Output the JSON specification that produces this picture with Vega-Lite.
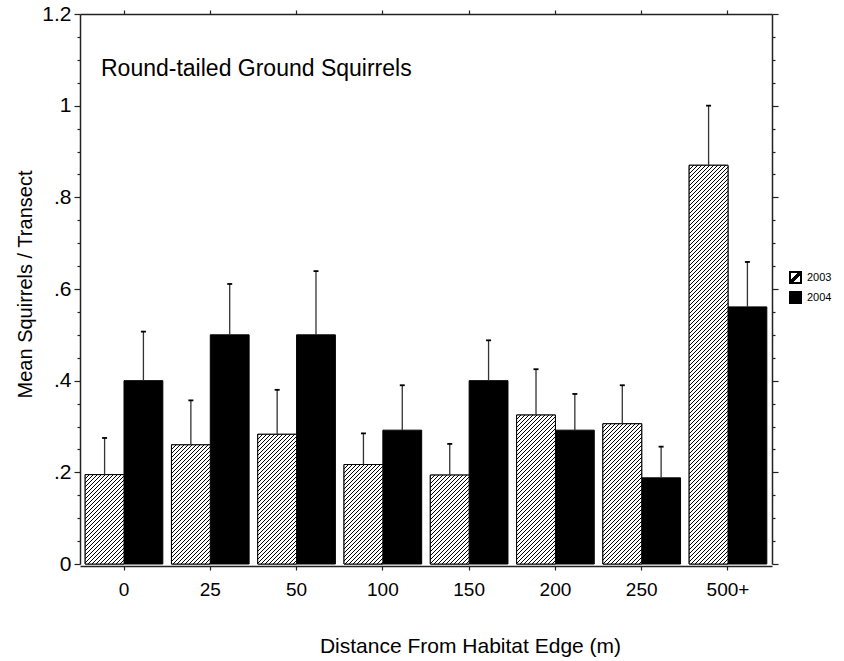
{
  "$schema": "https://vega.github.io/schema/vega-lite/v6.json",
  "width": 692,
  "height": 550,
  "autosize": "none",
  "padding": {"left": 80, "top": 14, "right": 72, "bottom": 97},
  "config": {
    "font": "Liberation Sans",
    "view": {"stroke": null},
    "axis": {"grid": false, "domainColor": "#222", "domainWidth": 1.5, "tickColor": "#222", "tickWidth": 1.2, "labelColor": "#000", "titleColor": "#000", "labelFont": "Liberation Sans", "titleFont": "Liberation Sans", "titleFontWeight": "normal"},
    "legend": {"labelColor": "#000", "labelFont": "Liberation Sans"}
  },
  "params": [
    {"name": "hatch", "value": [
{"offset":0,"color":"#000"},{"offset":0.002,"color":"#000"},{"offset":0.002,"color":"#fff"},{"offset":0.008,"color":"#fff"},
{"offset":0.008,"color":"#000"},{"offset":0.01,"color":"#000"},{"offset":0.01,"color":"#fff"},{"offset":0.016,"color":"#fff"},
{"offset":0.016,"color":"#000"},{"offset":0.018,"color":"#000"},{"offset":0.018,"color":"#fff"},{"offset":0.024,"color":"#fff"},
{"offset":0.024,"color":"#000"},{"offset":0.026,"color":"#000"},{"offset":0.026,"color":"#fff"},{"offset":0.032,"color":"#fff"},
{"offset":0.032,"color":"#000"},{"offset":0.034,"color":"#000"},{"offset":0.034,"color":"#fff"},{"offset":0.04,"color":"#fff"},
{"offset":0.04,"color":"#000"},{"offset":0.042,"color":"#000"},{"offset":0.042,"color":"#fff"},{"offset":0.048,"color":"#fff"},
{"offset":0.048,"color":"#000"},{"offset":0.05,"color":"#000"},{"offset":0.05,"color":"#fff"},{"offset":0.056,"color":"#fff"},
{"offset":0.056,"color":"#000"},{"offset":0.058,"color":"#000"},{"offset":0.058,"color":"#fff"},{"offset":0.064,"color":"#fff"},
{"offset":0.064,"color":"#000"},{"offset":0.066,"color":"#000"},{"offset":0.066,"color":"#fff"},{"offset":0.072,"color":"#fff"},
{"offset":0.072,"color":"#000"},{"offset":0.074,"color":"#000"},{"offset":0.074,"color":"#fff"},{"offset":0.08,"color":"#fff"},
{"offset":0.08,"color":"#000"},{"offset":0.082,"color":"#000"},{"offset":0.082,"color":"#fff"},{"offset":0.088,"color":"#fff"},
{"offset":0.088,"color":"#000"},{"offset":0.09,"color":"#000"},{"offset":0.09,"color":"#fff"},{"offset":0.096,"color":"#fff"},
{"offset":0.096,"color":"#000"},{"offset":0.098,"color":"#000"},{"offset":0.098,"color":"#fff"},{"offset":0.104,"color":"#fff"},
{"offset":0.104,"color":"#000"},{"offset":0.106,"color":"#000"},{"offset":0.106,"color":"#fff"},{"offset":0.112,"color":"#fff"},
{"offset":0.112,"color":"#000"},{"offset":0.114,"color":"#000"},{"offset":0.114,"color":"#fff"},{"offset":0.12,"color":"#fff"},
{"offset":0.12,"color":"#000"},{"offset":0.122,"color":"#000"},{"offset":0.122,"color":"#fff"},{"offset":0.128,"color":"#fff"},
{"offset":0.128,"color":"#000"},{"offset":0.13,"color":"#000"},{"offset":0.13,"color":"#fff"},{"offset":0.136,"color":"#fff"},
{"offset":0.136,"color":"#000"},{"offset":0.138,"color":"#000"},{"offset":0.138,"color":"#fff"},{"offset":0.144,"color":"#fff"},
{"offset":0.144,"color":"#000"},{"offset":0.146,"color":"#000"},{"offset":0.146,"color":"#fff"},{"offset":0.152,"color":"#fff"},
{"offset":0.152,"color":"#000"},{"offset":0.154,"color":"#000"},{"offset":0.154,"color":"#fff"},{"offset":0.16,"color":"#fff"},
{"offset":0.16,"color":"#000"},{"offset":0.162,"color":"#000"},{"offset":0.162,"color":"#fff"},{"offset":0.168,"color":"#fff"},
{"offset":0.168,"color":"#000"},{"offset":0.17,"color":"#000"},{"offset":0.17,"color":"#fff"},{"offset":0.176,"color":"#fff"},
{"offset":0.176,"color":"#000"},{"offset":0.178,"color":"#000"},{"offset":0.178,"color":"#fff"},{"offset":0.184,"color":"#fff"},
{"offset":0.184,"color":"#000"},{"offset":0.186,"color":"#000"},{"offset":0.186,"color":"#fff"},{"offset":0.192,"color":"#fff"},
{"offset":0.192,"color":"#000"},{"offset":0.194,"color":"#000"},{"offset":0.194,"color":"#fff"},{"offset":0.2,"color":"#fff"},
{"offset":0.2,"color":"#000"},{"offset":0.202,"color":"#000"},{"offset":0.202,"color":"#fff"},{"offset":0.208,"color":"#fff"},
{"offset":0.208,"color":"#000"},{"offset":0.21,"color":"#000"},{"offset":0.21,"color":"#fff"},{"offset":0.216,"color":"#fff"},
{"offset":0.216,"color":"#000"},{"offset":0.218,"color":"#000"},{"offset":0.218,"color":"#fff"},{"offset":0.224,"color":"#fff"},
{"offset":0.224,"color":"#000"},{"offset":0.226,"color":"#000"},{"offset":0.226,"color":"#fff"},{"offset":0.232,"color":"#fff"},
{"offset":0.232,"color":"#000"},{"offset":0.234,"color":"#000"},{"offset":0.234,"color":"#fff"},{"offset":0.24,"color":"#fff"},
{"offset":0.24,"color":"#000"},{"offset":0.242,"color":"#000"},{"offset":0.242,"color":"#fff"},{"offset":0.248,"color":"#fff"},
{"offset":0.248,"color":"#000"},{"offset":0.25,"color":"#000"},{"offset":0.25,"color":"#fff"},{"offset":0.256,"color":"#fff"},
{"offset":0.256,"color":"#000"},{"offset":0.258,"color":"#000"},{"offset":0.258,"color":"#fff"},{"offset":0.264,"color":"#fff"},
{"offset":0.264,"color":"#000"},{"offset":0.266,"color":"#000"},{"offset":0.266,"color":"#fff"},{"offset":0.272,"color":"#fff"},
{"offset":0.272,"color":"#000"},{"offset":0.274,"color":"#000"},{"offset":0.274,"color":"#fff"},{"offset":0.28,"color":"#fff"},
{"offset":0.28,"color":"#000"},{"offset":0.282,"color":"#000"},{"offset":0.282,"color":"#fff"},{"offset":0.288,"color":"#fff"},
{"offset":0.288,"color":"#000"},{"offset":0.29,"color":"#000"},{"offset":0.29,"color":"#fff"},{"offset":0.296,"color":"#fff"},
{"offset":0.296,"color":"#000"},{"offset":0.298,"color":"#000"},{"offset":0.298,"color":"#fff"},{"offset":0.304,"color":"#fff"},
{"offset":0.304,"color":"#000"},{"offset":0.306,"color":"#000"},{"offset":0.306,"color":"#fff"},{"offset":0.312,"color":"#fff"},
{"offset":0.312,"color":"#000"},{"offset":0.314,"color":"#000"},{"offset":0.314,"color":"#fff"},{"offset":0.32,"color":"#fff"},
{"offset":0.32,"color":"#000"},{"offset":0.322,"color":"#000"},{"offset":0.322,"color":"#fff"},{"offset":0.328,"color":"#fff"},
{"offset":0.328,"color":"#000"},{"offset":0.33,"color":"#000"},{"offset":0.33,"color":"#fff"},{"offset":0.336,"color":"#fff"},
{"offset":0.336,"color":"#000"},{"offset":0.338,"color":"#000"},{"offset":0.338,"color":"#fff"},{"offset":0.344,"color":"#fff"},
{"offset":0.344,"color":"#000"},{"offset":0.346,"color":"#000"},{"offset":0.346,"color":"#fff"},{"offset":0.352,"color":"#fff"},
{"offset":0.352,"color":"#000"},{"offset":0.354,"color":"#000"},{"offset":0.354,"color":"#fff"},{"offset":0.36,"color":"#fff"},
{"offset":0.36,"color":"#000"},{"offset":0.362,"color":"#000"},{"offset":0.362,"color":"#fff"},{"offset":0.368,"color":"#fff"},
{"offset":0.368,"color":"#000"},{"offset":0.37,"color":"#000"},{"offset":0.37,"color":"#fff"},{"offset":0.376,"color":"#fff"},
{"offset":0.376,"color":"#000"},{"offset":0.378,"color":"#000"},{"offset":0.378,"color":"#fff"},{"offset":0.384,"color":"#fff"},
{"offset":0.384,"color":"#000"},{"offset":0.386,"color":"#000"},{"offset":0.386,"color":"#fff"},{"offset":0.392,"color":"#fff"},
{"offset":0.392,"color":"#000"},{"offset":0.394,"color":"#000"},{"offset":0.394,"color":"#fff"},{"offset":0.4,"color":"#fff"},
{"offset":0.4,"color":"#000"},{"offset":0.402,"color":"#000"},{"offset":0.402,"color":"#fff"},{"offset":0.408,"color":"#fff"},
{"offset":0.408,"color":"#000"},{"offset":0.41,"color":"#000"},{"offset":0.41,"color":"#fff"},{"offset":0.416,"color":"#fff"},
{"offset":0.416,"color":"#000"},{"offset":0.418,"color":"#000"},{"offset":0.418,"color":"#fff"},{"offset":0.424,"color":"#fff"},
{"offset":0.424,"color":"#000"},{"offset":0.426,"color":"#000"},{"offset":0.426,"color":"#fff"},{"offset":0.432,"color":"#fff"},
{"offset":0.432,"color":"#000"},{"offset":0.434,"color":"#000"},{"offset":0.434,"color":"#fff"},{"offset":0.44,"color":"#fff"},
{"offset":0.44,"color":"#000"},{"offset":0.442,"color":"#000"},{"offset":0.442,"color":"#fff"},{"offset":0.448,"color":"#fff"},
{"offset":0.448,"color":"#000"},{"offset":0.45,"color":"#000"},{"offset":0.45,"color":"#fff"},{"offset":0.456,"color":"#fff"},
{"offset":0.456,"color":"#000"},{"offset":0.458,"color":"#000"},{"offset":0.458,"color":"#fff"},{"offset":0.464,"color":"#fff"},
{"offset":0.464,"color":"#000"},{"offset":0.466,"color":"#000"},{"offset":0.466,"color":"#fff"},{"offset":0.472,"color":"#fff"},
{"offset":0.472,"color":"#000"},{"offset":0.474,"color":"#000"},{"offset":0.474,"color":"#fff"},{"offset":0.48,"color":"#fff"},
{"offset":0.48,"color":"#000"},{"offset":0.482,"color":"#000"},{"offset":0.482,"color":"#fff"},{"offset":0.488,"color":"#fff"},
{"offset":0.488,"color":"#000"},{"offset":0.49,"color":"#000"},{"offset":0.49,"color":"#fff"},{"offset":0.496,"color":"#fff"},
{"offset":0.496,"color":"#000"},{"offset":0.498,"color":"#000"},{"offset":0.498,"color":"#fff"},{"offset":0.504,"color":"#fff"},
{"offset":0.504,"color":"#000"},{"offset":0.506,"color":"#000"},{"offset":0.506,"color":"#fff"},{"offset":0.512,"color":"#fff"},
{"offset":0.512,"color":"#000"},{"offset":0.514,"color":"#000"},{"offset":0.514,"color":"#fff"},{"offset":0.52,"color":"#fff"},
{"offset":0.52,"color":"#000"},{"offset":0.522,"color":"#000"},{"offset":0.522,"color":"#fff"},{"offset":0.528,"color":"#fff"},
{"offset":0.528,"color":"#000"},{"offset":0.53,"color":"#000"},{"offset":0.53,"color":"#fff"},{"offset":0.536,"color":"#fff"},
{"offset":0.536,"color":"#000"},{"offset":0.538,"color":"#000"},{"offset":0.538,"color":"#fff"},{"offset":0.544,"color":"#fff"},
{"offset":0.544,"color":"#000"},{"offset":0.546,"color":"#000"},{"offset":0.546,"color":"#fff"},{"offset":0.552,"color":"#fff"},
{"offset":0.552,"color":"#000"},{"offset":0.554,"color":"#000"},{"offset":0.554,"color":"#fff"},{"offset":0.56,"color":"#fff"},
{"offset":0.56,"color":"#000"},{"offset":0.562,"color":"#000"},{"offset":0.562,"color":"#fff"},{"offset":0.568,"color":"#fff"},
{"offset":0.568,"color":"#000"},{"offset":0.57,"color":"#000"},{"offset":0.57,"color":"#fff"},{"offset":0.576,"color":"#fff"},
{"offset":0.576,"color":"#000"},{"offset":0.578,"color":"#000"},{"offset":0.578,"color":"#fff"},{"offset":0.584,"color":"#fff"},
{"offset":0.584,"color":"#000"},{"offset":0.586,"color":"#000"},{"offset":0.586,"color":"#fff"},{"offset":0.592,"color":"#fff"},
{"offset":0.592,"color":"#000"},{"offset":0.594,"color":"#000"},{"offset":0.594,"color":"#fff"},{"offset":0.6,"color":"#fff"},
{"offset":0.6,"color":"#000"},{"offset":0.602,"color":"#000"},{"offset":0.602,"color":"#fff"},{"offset":0.608,"color":"#fff"},
{"offset":0.608,"color":"#000"},{"offset":0.61,"color":"#000"},{"offset":0.61,"color":"#fff"},{"offset":0.616,"color":"#fff"},
{"offset":0.616,"color":"#000"},{"offset":0.618,"color":"#000"},{"offset":0.618,"color":"#fff"},{"offset":0.624,"color":"#fff"},
{"offset":0.624,"color":"#000"},{"offset":0.626,"color":"#000"},{"offset":0.626,"color":"#fff"},{"offset":0.632,"color":"#fff"},
{"offset":0.632,"color":"#000"},{"offset":0.634,"color":"#000"},{"offset":0.634,"color":"#fff"},{"offset":0.64,"color":"#fff"},
{"offset":0.64,"color":"#000"},{"offset":0.642,"color":"#000"},{"offset":0.642,"color":"#fff"},{"offset":0.648,"color":"#fff"},
{"offset":0.648,"color":"#000"},{"offset":0.65,"color":"#000"},{"offset":0.65,"color":"#fff"},{"offset":0.656,"color":"#fff"},
{"offset":0.656,"color":"#000"},{"offset":0.658,"color":"#000"},{"offset":0.658,"color":"#fff"},{"offset":0.664,"color":"#fff"},
{"offset":0.664,"color":"#000"},{"offset":0.666,"color":"#000"},{"offset":0.666,"color":"#fff"},{"offset":0.672,"color":"#fff"},
{"offset":0.672,"color":"#000"},{"offset":0.674,"color":"#000"},{"offset":0.674,"color":"#fff"},{"offset":0.68,"color":"#fff"},
{"offset":0.68,"color":"#000"},{"offset":0.682,"color":"#000"},{"offset":0.682,"color":"#fff"},{"offset":0.688,"color":"#fff"},
{"offset":0.688,"color":"#000"},{"offset":0.69,"color":"#000"},{"offset":0.69,"color":"#fff"},{"offset":0.696,"color":"#fff"},
{"offset":0.696,"color":"#000"},{"offset":0.698,"color":"#000"},{"offset":0.698,"color":"#fff"},{"offset":0.704,"color":"#fff"},
{"offset":0.704,"color":"#000"},{"offset":0.706,"color":"#000"},{"offset":0.706,"color":"#fff"},{"offset":0.712,"color":"#fff"},
{"offset":0.712,"color":"#000"},{"offset":0.714,"color":"#000"},{"offset":0.714,"color":"#fff"},{"offset":0.72,"color":"#fff"},
{"offset":0.72,"color":"#000"},{"offset":0.722,"color":"#000"},{"offset":0.722,"color":"#fff"},{"offset":0.728,"color":"#fff"},
{"offset":0.728,"color":"#000"},{"offset":0.73,"color":"#000"},{"offset":0.73,"color":"#fff"},{"offset":0.736,"color":"#fff"},
{"offset":0.736,"color":"#000"},{"offset":0.738,"color":"#000"},{"offset":0.738,"color":"#fff"},{"offset":0.744,"color":"#fff"},
{"offset":0.744,"color":"#000"},{"offset":0.746,"color":"#000"},{"offset":0.746,"color":"#fff"},{"offset":0.752,"color":"#fff"},
{"offset":0.752,"color":"#000"},{"offset":0.754,"color":"#000"},{"offset":0.754,"color":"#fff"},{"offset":0.76,"color":"#fff"},
{"offset":0.76,"color":"#000"},{"offset":0.762,"color":"#000"},{"offset":0.762,"color":"#fff"},{"offset":0.768,"color":"#fff"},
{"offset":0.768,"color":"#000"},{"offset":0.77,"color":"#000"},{"offset":0.77,"color":"#fff"},{"offset":0.776,"color":"#fff"},
{"offset":0.776,"color":"#000"},{"offset":0.778,"color":"#000"},{"offset":0.778,"color":"#fff"},{"offset":0.784,"color":"#fff"},
{"offset":0.784,"color":"#000"},{"offset":0.786,"color":"#000"},{"offset":0.786,"color":"#fff"},{"offset":0.792,"color":"#fff"},
{"offset":0.792,"color":"#000"},{"offset":0.794,"color":"#000"},{"offset":0.794,"color":"#fff"},{"offset":0.8,"color":"#fff"},
{"offset":0.8,"color":"#000"},{"offset":0.802,"color":"#000"},{"offset":0.802,"color":"#fff"},{"offset":0.808,"color":"#fff"},
{"offset":0.808,"color":"#000"},{"offset":0.81,"color":"#000"},{"offset":0.81,"color":"#fff"},{"offset":0.816,"color":"#fff"},
{"offset":0.816,"color":"#000"},{"offset":0.818,"color":"#000"},{"offset":0.818,"color":"#fff"},{"offset":0.824,"color":"#fff"},
{"offset":0.824,"color":"#000"},{"offset":0.826,"color":"#000"},{"offset":0.826,"color":"#fff"},{"offset":0.832,"color":"#fff"},
{"offset":0.832,"color":"#000"},{"offset":0.834,"color":"#000"},{"offset":0.834,"color":"#fff"},{"offset":0.84,"color":"#fff"},
{"offset":0.84,"color":"#000"},{"offset":0.842,"color":"#000"},{"offset":0.842,"color":"#fff"},{"offset":0.848,"color":"#fff"},
{"offset":0.848,"color":"#000"},{"offset":0.85,"color":"#000"},{"offset":0.85,"color":"#fff"},{"offset":0.856,"color":"#fff"},
{"offset":0.856,"color":"#000"},{"offset":0.858,"color":"#000"},{"offset":0.858,"color":"#fff"},{"offset":0.864,"color":"#fff"},
{"offset":0.864,"color":"#000"},{"offset":0.866,"color":"#000"},{"offset":0.866,"color":"#fff"},{"offset":0.872,"color":"#fff"},
{"offset":0.872,"color":"#000"},{"offset":0.874,"color":"#000"},{"offset":0.874,"color":"#fff"},{"offset":0.88,"color":"#fff"},
{"offset":0.88,"color":"#000"},{"offset":0.882,"color":"#000"},{"offset":0.882,"color":"#fff"},{"offset":1,"color":"#fff"}
    ]}
  ],
  "title": {"text": "Round-tailed Ground Squirrels", "anchor": "start", "frame": "group", "orient": "top", "offset": -96, "dx": 21, "fontSize": 23, "fontWeight": "normal", "font": "Liberation Sans", "color": "#000", "baseline": "alphabetic"},
  "data": {"values": [
    {"dist": "0", "year": "2003", "mean": 0.195, "upper": 0.275},
    {"dist": "0", "year": "2004", "mean": 0.4, "upper": 0.507},
    {"dist": "25", "year": "2003", "mean": 0.26, "upper": 0.357},
    {"dist": "25", "year": "2004", "mean": 0.5, "upper": 0.611},
    {"dist": "50", "year": "2003", "mean": 0.283, "upper": 0.38},
    {"dist": "50", "year": "2004", "mean": 0.5, "upper": 0.639},
    {"dist": "100", "year": "2003", "mean": 0.217, "upper": 0.285},
    {"dist": "100", "year": "2004", "mean": 0.292, "upper": 0.39},
    {"dist": "150", "year": "2003", "mean": 0.194, "upper": 0.262},
    {"dist": "150", "year": "2004", "mean": 0.4, "upper": 0.488},
    {"dist": "200", "year": "2003", "mean": 0.325, "upper": 0.425},
    {"dist": "200", "year": "2004", "mean": 0.292, "upper": 0.371},
    {"dist": "250", "year": "2003", "mean": 0.306, "upper": 0.39},
    {"dist": "250", "year": "2004", "mean": 0.188, "upper": 0.256},
    {"dist": "500+", "year": "2003", "mean": 0.87, "upper": 1.0},
    {"dist": "500+", "year": "2004", "mean": 0.561, "upper": 0.659}
  ]},
  "layer": [
    {
      "mark": {"type": "bar", "stroke": "#000", "strokeWidth": 1},
      "encoding": {
        "x": {"field": "dist", "type": "nominal", "sort": ["0", "25", "50", "100", "150", "200", "250", "500+"], "scale": {"paddingInner": 0.1, "paddingOuter": 0.06},
          "axis": {"orient": "bottom", "offset": 2, "tickSize": 4, "labelAngle": 0, "labelFontSize": 19, "labelPadding": 10, "title": "Distance From Habitat Edge (m)", "titleFontSize": 21, "titleX": 390, "titleY": 86, "titleBaseline": "alphabetic"}},
        "xOffset": {"field": "year", "type": "nominal", "scale": {"domain": ["2003", "2004"], "paddingInner": 0, "paddingOuter": 0}},
        "y": {"field": "mean", "type": "quantitative", "scale": {"domain": [0, 1.2], "nice": false},
          "axis": {"orient": "left", "values": [0, 0.2, 0.4, 0.6, 0.8, 1, 1.2], "tickSize": 6, "labelFontSize": 21, "labelPadding": 3,
            "labelExpr": "datum.value === 0 ? '0' : datum.value < 1 ? replace(format(datum.value, '.1f'), '0.', '.') : format(datum.value, '.1~f')",
            "title": "Mean Squirrels / Transect", "titleFontSize": 20, "titleX": -49, "titleY": 270, "titleBaseline": "alphabetic"}},
        "fill": {"field": "year", "type": "nominal",
          "scale": {"domain": ["2003", "2004"], "range": [{"expr": "{gradient: 'linear', x1: 0, y1: 0, x2: 1, y2: 1, stops: [{offset: 0, color: '#fff'}, {offset: 0.38, color: '#fff'}, {offset: 0.38, color: '#000'}, {offset: 0.62, color: '#000'}, {offset: 0.62, color: '#fff'}, {offset: 1, color: '#fff'}]}"}, "#000000"]},
          "legend": {"orient": "none", "legendX": 709, "legendY": 257, "title": null, "symbolType": "square", "symbolSize": 121, "symbolStrokeColor": "#000", "symbolStrokeWidth": 2, "labelFontSize": 11, "labelColor": "#000", "rowPadding": 1, "labelOffset": 5, "padding": 0}}
      }
    },
    {
      "transform": [{"filter": "datum.year === '2003'"}],
      "mark": {"type": "bar", "stroke": "#000", "strokeWidth": 1,
        "fill": {"expr": "{gradient: 'linear', x1: 0, y1: 0, x2: bandwidth('xOffset') * 500 / (pow(bandwidth('xOffset'), 2) + pow(scale('y', 0) - scale('y', datum.mean), 2)), y2: (scale('y', 0) - scale('y', datum.mean)) * 500 / (pow(bandwidth('xOffset'), 2) + pow(scale('y', 0) - scale('y', datum.mean), 2)), stops: hatch}"}},
      "encoding": {
        "x": {"field": "dist", "type": "nominal", "sort": ["0", "25", "50", "100", "150", "200", "250", "500+"],
          "axis": {"orient": "top", "tickSize": 4, "labels": false, "title": null, "domain": true}},
        "xOffset": {"field": "year", "type": "nominal"},
        "y": {"field": "mean", "type": "quantitative",
          "axis": {"orient": "left", "values": [0.05, 0.1, 0.15, 0.25, 0.3, 0.35, 0.45, 0.5, 0.55, 0.65, 0.7, 0.75, 0.85, 0.9, 0.95, 1.05, 1.1, 1.15], "tickSize": 3, "labels": false, "domain": false, "title": null}}
      }
    },
    {
      "mark": {"type": "rule", "stroke": "#333", "strokeWidth": 1.3},
      "encoding": {
        "x": {"field": "dist", "type": "nominal", "sort": ["0", "25", "50", "100", "150", "200", "250", "500+"], "axis": null},
        "xOffset": {"field": "year", "type": "nominal"},
        "y": {"field": "mean", "type": "quantitative",
          "axis": {"orient": "right", "values": [0, 0.2, 0.4, 0.6, 0.8, 1, 1.2], "tickSize": 6, "labels": false, "title": null, "domain": true}},
        "y2": {"field": "upper"}
      }
    },
    {
      "mark": {"type": "point", "shape": "stroke", "size": 25, "stroke": "#000", "strokeWidth": 1.8, "filled": false, "opacity": 1},
      "encoding": {
        "x": {"field": "dist", "type": "nominal", "sort": ["0", "25", "50", "100", "150", "200", "250", "500+"], "axis": null},
        "xOffset": {"field": "year", "type": "nominal"},
        "y": {"field": "upper", "type": "quantitative",
          "axis": {"orient": "right", "values": [0.05, 0.1, 0.15, 0.25, 0.3, 0.35, 0.45, 0.5, 0.55, 0.65, 0.7, 0.75, 0.85, 0.9, 0.95, 1.05, 1.1, 1.15], "tickSize": 3, "labels": false, "domain": false, "title": null}}
      }
    }
  ],
  "resolve": {"axis": {"x": "independent", "y": "independent"}}
}
